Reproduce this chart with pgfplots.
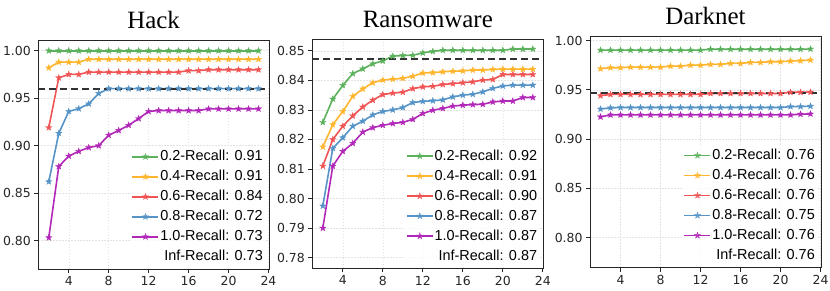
\documentclass[border=0pt]{standalone}
\usepackage{fontspec}
\setmainfont{Liberation Serif}
\newfontfamily\tickfont{DejaVu Sans}
\newfontfamily\legfont{Liberation Sans}
\usepackage{pgfplots}
\pgfplotsset{compat=1.18}
\usetikzlibrary{plotmarks}

\definecolor{cg}{RGB}{92,178,92}
\definecolor{co}{RGB}{255,181,46}
\definecolor{cr}{RGB}{240,84,84}
\definecolor{cb}{RGB}{86,148,200}
\definecolor{cp}{RGB}{178,40,184}
\definecolor{cd}{RGB}{50,50,50}

\pgfdeclareplotmark{fstar}{%
  \pgfpathmoveto{\pgfpointpolar{90}{\pgfplotmarksize}}%
  \pgfpathlineto{\pgfpointpolar{126}{0.4\pgfplotmarksize}}%
  \pgfpathlineto{\pgfpointpolar{162}{\pgfplotmarksize}}%
  \pgfpathlineto{\pgfpointpolar{198}{0.4\pgfplotmarksize}}%
  \pgfpathlineto{\pgfpointpolar{234}{\pgfplotmarksize}}%
  \pgfpathlineto{\pgfpointpolar{270}{0.4\pgfplotmarksize}}%
  \pgfpathlineto{\pgfpointpolar{306}{\pgfplotmarksize}}%
  \pgfpathlineto{\pgfpointpolar{342}{0.4\pgfplotmarksize}}%
  \pgfpathlineto{\pgfpointpolar{18}{\pgfplotmarksize}}%
  \pgfpathlineto{\pgfpointpolar{54}{0.4\pgfplotmarksize}}%
  \pgfpathclose\pgfusepathqfillstroke}

\pgfplotsset{
  panel/.style={
    scale only axis,
    xmin=0.95, xmax=24.05, xtick={4,8,12,16,20,24},
    axis line style={black!85, line width=0.8bp},
    tick style={black!85, line width=0.8bp},
    tick align=outside, tick pos=left, major tick length=4bp,
    grid=major,
    major grid style={gray!22, line width=0.5bp, dash pattern=on 1.5bp off 1.5bp},
    ticklabel style={font=\tickfont\fontsize{12.5}{14}\selectfont, text=black!85},
    /pgf/number format/assume math mode=true,
    scaled y ticks=false,
    yticklabel style={/pgf/number format/.cd, fixed, fixed zerofill, precision=2},
    title style={font=\fontsize{25}{28}\selectfont, yshift=1.5bp},
    legend cell align=right,
    legend style={at={(1,0)}, anchor=south east, xshift=-3bp, yshift=2bp,
      draw=none, fill=white, fill opacity=0.8, text opacity=1,
      font=\legfont\fontsize{14.5}{17}\selectfont,
      row sep=4bp, inner sep=2bp,
      nodes={inner sep=1bp, text height=11bp, text depth=3bp}},
    legend image code/.code={\draw[mark repeat=2, mark phase=2]
      plot coordinates {(0bp,0bp) (13bp,0bp) (26bp,0bp)};},
  },
  ser/.style={color=#1, line width=1.6bp, mark=fstar, mark size=3.3bp,
    mark options={solid, line width=0.3bp, fill=#1}},
  dash/.style={forget plot, no marks, color=cd, line width=2.2bp, dash pattern=on 7bp off 4bp},
}

\begin{document}
\begin{tikzpicture}
\path[use as bounding box] (0,0) rectangle (830bp,291bp);

% ---------------- Hack ----------------
\begin{axis}[panel, at={(38.3bp,22bp)}, anchor=south west,
  width=230.7bp, height=229bp, ymin=0.77, ymax=1.0113,
  ytick={0.80,0.85,0.90,0.95,1.00}, title={Hack}]
\addplot[ser=cg] coordinates {(2,1.000) (3,1.000) (4,1.000) (5,1.000) (6,1.000) (7,1.000) (8,1.000) (9,1.000) (10,1.000) (11,1.000) (12,1.000) (13,1.000) (14,1.000) (15,1.000) (16,1.000) (17,1.000) (18,1.000) (19,1.000) (20,1.000) (21,1.000) (22,1.000) (23,1.000)};
\addlegendentry{0.2-Recall: 0.91}
\addplot[ser=co] coordinates {(2,0.982) (3,0.988) (4,0.988) (5,0.988) (6,0.991) (7,0.991) (8,0.991) (9,0.991) (10,0.991) (11,0.991) (12,0.991) (13,0.991) (14,0.991) (15,0.991) (16,0.991) (17,0.991) (18,0.991) (19,0.991) (20,0.991) (21,0.991) (22,0.991) (23,0.991)};
\addlegendentry{0.4-Recall: 0.91}
\addplot[ser=cr] coordinates {(2,0.919) (3,0.9715) (4,0.975) (5,0.975) (6,0.9775) (7,0.9775) (8,0.9775) (9,0.9775) (10,0.9775) (11,0.9775) (12,0.9775) (13,0.9775) (14,0.9775) (15,0.9775) (16,0.979) (17,0.979) (18,0.980) (19,0.980) (20,0.980) (21,0.980) (22,0.980) (23,0.980)};
\addlegendentry{0.6-Recall: 0.84}
\addplot[ser=cb] coordinates {(2,0.862) (3,0.913) (4,0.936) (5,0.939) (6,0.944) (7,0.955) (8,0.960) (9,0.960) (10,0.960) (11,0.960) (12,0.960) (13,0.960) (14,0.960) (15,0.960) (16,0.960) (17,0.960) (18,0.960) (19,0.960) (20,0.960) (21,0.960) (22,0.960) (23,0.960)};
\addlegendentry{0.8-Recall: 0.72}
\addplot[ser=cp] coordinates {(2,0.803) (3,0.878) (4,0.889) (5,0.894) (6,0.898) (7,0.900) (8,0.911) (9,0.916) (10,0.9215) (11,0.9285) (12,0.936) (13,0.937) (14,0.937) (15,0.937) (16,0.937) (17,0.937) (18,0.9387) (19,0.9387) (20,0.9387) (21,0.9387) (22,0.9387) (23,0.9387)};
\addlegendentry{1.0-Recall: 0.73}
\addlegendimage{empty legend}
\addlegendentry{Inf-Recall: 0.73}
\addplot[dash] coordinates {(0.95,0.9595) (24.05,0.9595)};
\end{axis}

% ---------------- Ransomware ----------------
\begin{axis}[panel, at={(312.3bp,22.7bp)}, anchor=south west,
  width=231bp, height=229.3bp, ymin=0.7764, ymax=0.854,
  ytick={0.78,0.79,0.80,0.81,0.82,0.83,0.84,0.85}, title={Ransomware}]
\addplot[ser=cg] coordinates {(2,0.8258) (3,0.8337) (4,0.8383) (5,0.8423) (6,0.8439) (7,0.8456) (8,0.8466) (9,0.8482) (10,0.8484) (11,0.8485) (12,0.8493) (13,0.8498) (14,0.8502) (15,0.8502) (16,0.8502) (17,0.8502) (18,0.8502) (19,0.8502) (20,0.8502) (21,0.8506) (22,0.8506) (23,0.8506)};
\addlegendentry{0.2-Recall: 0.92}
\addplot[ser=co] coordinates {(2,0.8175) (3,0.825) (4,0.8295) (5,0.8346) (6,0.8371) (7,0.8392) (8,0.8401) (9,0.8404) (10,0.8407) (11,0.8414) (12,0.8425) (13,0.8426) (14,0.8429) (15,0.8431) (16,0.8432) (17,0.8435) (18,0.8435) (19,0.8437) (20,0.8438) (21,0.8438) (22,0.8438) (23,0.8438)};
\addlegendentry{0.4-Recall: 0.91}
\addplot[ser=cr] coordinates {(2,0.811) (3,0.820) (4,0.8245) (5,0.828) (6,0.831) (7,0.8333) (8,0.8352) (9,0.8357) (10,0.836) (11,0.8372) (12,0.8378) (13,0.838) (14,0.8386) (15,0.8389) (16,0.8392) (17,0.8395) (18,0.8401) (19,0.8403) (20,0.842) (21,0.842) (22,0.842) (23,0.842)};
\addlegendentry{0.6-Recall: 0.90}
\addplot[ser=cb] coordinates {(2,0.7975) (3,0.817) (4,0.8206) (5,0.8245) (6,0.8262) (7,0.8283) (8,0.8295) (9,0.830) (10,0.8308) (11,0.8325) (12,0.8329) (13,0.8331) (14,0.8334) (15,0.8344) (16,0.835) (17,0.8353) (18,0.8361) (19,0.8373) (20,0.8381) (21,0.8384) (22,0.8384) (23,0.8384)};
\addlegendentry{0.8-Recall: 0.87}
\addplot[ser=cp] coordinates {(2,0.790) (3,0.811) (4,0.816) (5,0.8187) (6,0.8225) (7,0.824) (8,0.8248) (9,0.8254) (10,0.8258) (11,0.8268) (12,0.8288) (13,0.8299) (14,0.8305) (15,0.8313) (16,0.8316) (17,0.8318) (18,0.8319) (19,0.8327) (20,0.833) (21,0.833) (22,0.8342) (23,0.8342)};
\addlegendentry{1.0-Recall: 0.87}
\addlegendimage{empty legend}
\addlegendentry{Inf-Recall: 0.87}
\addplot[dash] coordinates {(0.95,0.8473) (24.05,0.8473)};
\end{axis}

% ---------------- Darknet ----------------
\begin{axis}[panel, at={(590bp,23.3bp)}, anchor=south west,
  width=231bp, height=231.7bp, ymin=0.7695, ymax=1.0046,
  ytick={0.80,0.85,0.90,0.95,1.00}, title={Darknet}]
\addplot[ser=cg] coordinates {(2,0.9903) (3,0.9903) (4,0.9903) (5,0.9903) (6,0.9903) (7,0.9903) (8,0.9903) (9,0.9903) (10,0.9903) (11,0.9903) (12,0.9903) (13,0.9912) (14,0.9912) (15,0.9912) (16,0.9912) (17,0.9912) (18,0.9912) (19,0.9912) (20,0.9912) (21,0.9912) (22,0.9912) (23,0.9914)};
\addlegendentry{0.2-Recall: 0.76}
\addplot[ser=co] coordinates {(2,0.9714) (3,0.9724) (4,0.9724) (5,0.973) (6,0.973) (7,0.973) (8,0.973) (9,0.974) (10,0.974) (11,0.975) (12,0.975) (13,0.9758) (14,0.9758) (15,0.9768) (16,0.9768) (17,0.9778) (18,0.9778) (19,0.9785) (20,0.9785) (21,0.9792) (22,0.9795) (23,0.9802)};
\addlegendentry{0.4-Recall: 0.76}
\addplot[ser=cr] coordinates {(2,0.944) (3,0.9453) (4,0.9453) (5,0.9453) (6,0.9453) (7,0.9453) (8,0.9453) (9,0.9453) (10,0.9453) (11,0.9453) (12,0.9453) (13,0.9463) (14,0.9463) (15,0.9463) (16,0.9463) (17,0.9463) (18,0.9463) (19,0.9463) (20,0.9463) (21,0.9475) (22,0.9475) (23,0.9477)};
\addlegendentry{0.6-Recall: 0.76}
\addplot[ser=cb] coordinates {(2,0.9305) (3,0.9317) (4,0.932) (5,0.932) (6,0.932) (7,0.932) (8,0.932) (9,0.932) (10,0.932) (11,0.932) (12,0.932) (13,0.932) (14,0.932) (15,0.932) (16,0.932) (17,0.932) (18,0.932) (19,0.932) (20,0.932) (21,0.933) (22,0.933) (23,0.9334)};
\addlegendentry{0.8-Recall: 0.75}
\addplot[ser=cp] coordinates {(2,0.9225) (3,0.9245) (4,0.9245) (5,0.9245) (6,0.9245) (7,0.9245) (8,0.9245) (9,0.9245) (10,0.9245) (11,0.9245) (12,0.9245) (13,0.9245) (14,0.9245) (15,0.9245) (16,0.9245) (17,0.9245) (18,0.9245) (19,0.9245) (20,0.9245) (21,0.9245) (22,0.9253) (23,0.9255)};
\addlegendentry{1.0-Recall: 0.76}
\addlegendimage{empty legend}
\addlegendentry{Inf-Recall: 0.76}
\addplot[dash] coordinates {(0.95,0.947) (24.05,0.947)};
\end{axis}
\end{tikzpicture}
\end{document}
